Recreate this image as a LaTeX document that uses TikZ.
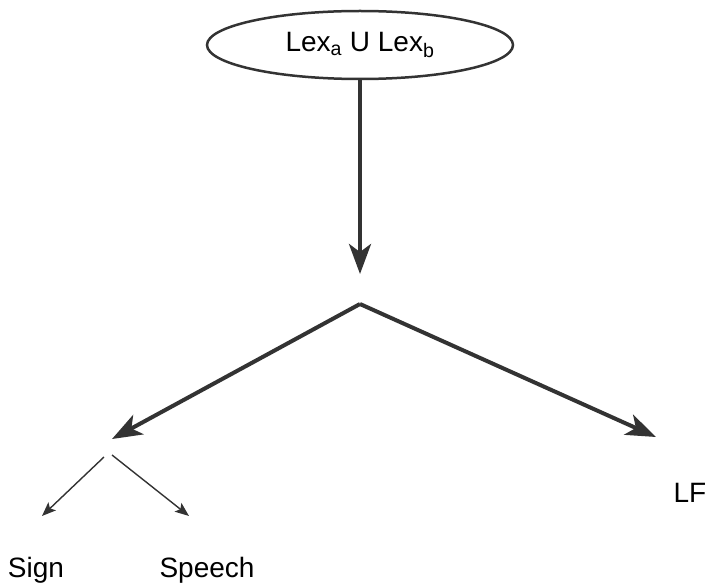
\documentclass[tikz,border=0pt]{standalone}
\usepackage{fontspec}
\setmainfont{Liberation Sans}
\usetikzlibrary{arrows.meta,shapes.geometric}
\definecolor{ink}{HTML}{333333}
\begin{document}
\begin{tikzpicture}[x=1pt,y=-1pt,
  big/.style={draw=ink,line width=4pt,-{Stealth[length=30pt,width=22pt,inset=8pt]}},
  small/.style={draw=ink,line width=1.4pt,-{Stealth[length=14pt,width=11pt,inset=3pt]}},
  lbl/.style={font=\fontsize{28}{30}\selectfont,text=black,inner sep=0pt}]
\useasboundingbox (0,0) rectangle (711,588);
\node[ellipse,draw=ink,line width=2.5pt,minimum width=306pt,minimum height=68pt,lbl] (top) at (360,45) {Lex\textsubscript{a} U Lex\textsubscript{b}};
\coordinate (mid) at (360,274);
\coordinate (br) at (360,304);
\coordinate (l) at (112,439);
\coordinate (r) at (656,437);
\coordinate (ls) at (104,457);
\coordinate (rs) at (112,455);
\coordinate (sl) at (42,516);
\coordinate (sr) at (189,516);
\node[lbl] (lf) at (690,493) {LF};
\node[lbl] (sign) at (36,570) {Sign};
\node[lbl] (speech) at (207,570) {Speech};
\draw[big] (top.south) -- (mid);
\draw[big] (br) -- (l);
\draw[big] (br) -- (r);
\draw[small] (ls) -- (sl);
\draw[small] (rs) -- (sr);
\end{tikzpicture}
\end{document}
